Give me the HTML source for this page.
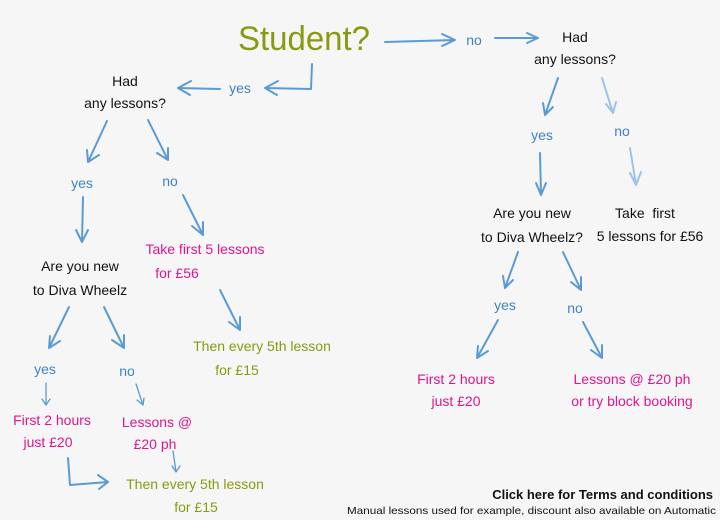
<!DOCTYPE html>
<html><head><meta charset="utf-8"><style>
html,body{margin:0;padding:0;background:#f6f6f6;}
svg{display:block}
text{font-family:"Liberation Sans Narrow","Liberation Sans",sans-serif;text-anchor:middle;font-size:14px}
.k{fill:#111}.b{fill:#3f82c4}.p{fill:#e0158e}.o{fill:#8a9a10}
.a{stroke:#5b9bd5;stroke-width:2;fill:none;stroke-linecap:round;stroke-linejoin:round}
.l{stroke:#9cc3e8}
</style></head><body>
<svg width="720" height="520" viewBox="0 0 720 520" xmlns="http://www.w3.org/2000/svg">
<text x="304" y="50" class="o" style="font-size:34px" textLength="132" lengthAdjust="spacingAndGlyphs">Student?</text>
<!-- top no -->
<path class="a" d="M385 42 L455 40 M442 34 L455 40 L442 46"/>
<text x="474" y="45" class="b">no</text>
<path class="a" d="M495 38 L538 38 M527 33 L538 38 L527 43"/>
<text x="575" y="42" class="k">Had</text>
<text x="575" y="64" class="k">any lessons?</text>
<!-- yes left -->
<path class="a" d="M312 64 L311 89 L265 88 M278 81 L265 88 L277 95"/>
<text x="240" y="93" class="b">yes</text>
<path class="a" d="M220 89 L178 88 M191 81 L178 88 L190 95"/>
<text x="125" y="86" class="k">Had</text>
<text x="125" y="108" class="k">any lessons?</text>
<path class="a" d="M107 121 L88 162 M87 150 L88 162 L99 155"/>
<path class="a" d="M148 120 L168 160 M157 153 L168 160 L168 148"/>
<text x="82" y="188" class="b">yes</text>
<text x="170" y="186" class="b">no</text>
<path class="a" d="M83 197 L82 242 M76 230 L82 242 L88 230"/>
<path class="a" d="M183 195 L203 235 M192 226 L203 235 L203 222"/>
<text x="80" y="271" class="k">Are you new</text>
<text x="80" y="295" class="k">to Diva Wheelz</text>
<text x="205" y="254" class="p">Take first 5 lessons</text>
<text x="177" y="278" class="p">for £56</text>
<path class="a" d="M220 290 L240 330 M229 322 L240 330 L240 317"/>
<text x="262" y="351" class="o">Then every 5th lesson</text>
<text x="237" y="375" class="o">for £15</text>
<path class="a" d="M69 307 L49 348 M50 336 L49 348 L60 341"/>
<path class="a" d="M104 307 L124 348 M112 340 L124 348 L124 335"/>
<text x="45" y="374" class="b">yes</text>
<text x="127" y="376" class="b">no</text>
<path class="a" style="stroke-width:1.3" d="M46 383 L46 405 M42 399 L46 405 L50 399"/>
<path class="a" style="stroke-width:1.3" d="M136 384 L143 405 M137 400 L143 405 L144 398"/>
<text x="52" y="425" class="p">First 2 hours</text>
<text x="48" y="447" class="p">just £20</text>
<text x="157" y="427" class="p">Lessons @</text>
<text x="155" y="449" class="p">£20 ph</text>
<path class="a" d="M68 458 L70 485 L108 482 M98 475 L108 482 L99 489"/>
<path class="a" style="stroke-width:1.3" d="M173 451 L176 472 M172 466 L176 472 L180 466"/>
<text x="195" y="489" class="o">Then every 5th lesson</text>
<text x="196" y="512" class="o">for £15</text>
<!-- right -->
<path class="a" d="M558 78 L545 115 M543 103 L545 115 L553 107"/>
<path class="a l" d="M602 78 L613 113 M606 104 L613 113 L616 102"/>
<text x="542" y="140" class="b">yes</text>
<text x="622" y="136" class="b">no</text>
<path class="a" d="M540 153 L541 195 M536 183 L541 195 L546 183"/>
<path class="a l" d="M630 148 L636 185 M630 173 L636 185 L641 172"/>
<text x="532" y="218" class="k">Are you new</text>
<text x="532" y="242" class="k">to Diva Wheelz?</text>
<text x="645" y="218" class="k">Take&#160; first</text>
<text x="650" y="241" class="k">5 lessons for £56</text>
<path class="a" d="M518 252 L505 288 M503 276 L505 288 L513 280"/>
<path class="a" d="M563 252 L581 290 M571 282 L581 290 L581 277"/>
<text x="505" y="310" class="b">yes</text>
<text x="575" y="313" class="b">no</text>
<path class="a" d="M498 320 L477 358 M478 346 L477 358 L488 351"/>
<path class="a" d="M583 322 L602 358 M591 350 L602 358 L602 345"/>
<text x="456" y="384" class="p">First 2 hours</text>
<text x="456" y="406" class="p">just £20</text>
<text x="632" y="384" class="p">Lessons @ £20 ph</text>
<text x="632" y="406" class="p">or try block booking</text>
<text x="713" y="499" style="font-family:'Liberation Sans',sans-serif;text-anchor:end;font-weight:bold;font-size:13px" class="k">Click here for Terms and conditions</text>
<text x="716" y="514" style="font-family:'Liberation Sans',sans-serif;text-anchor:end;font-size:10.5px" class="k" textLength="369" lengthAdjust="spacingAndGlyphs">Manual lessons used for example, discount also available on Automatic</text>
</svg>
</body></html>
